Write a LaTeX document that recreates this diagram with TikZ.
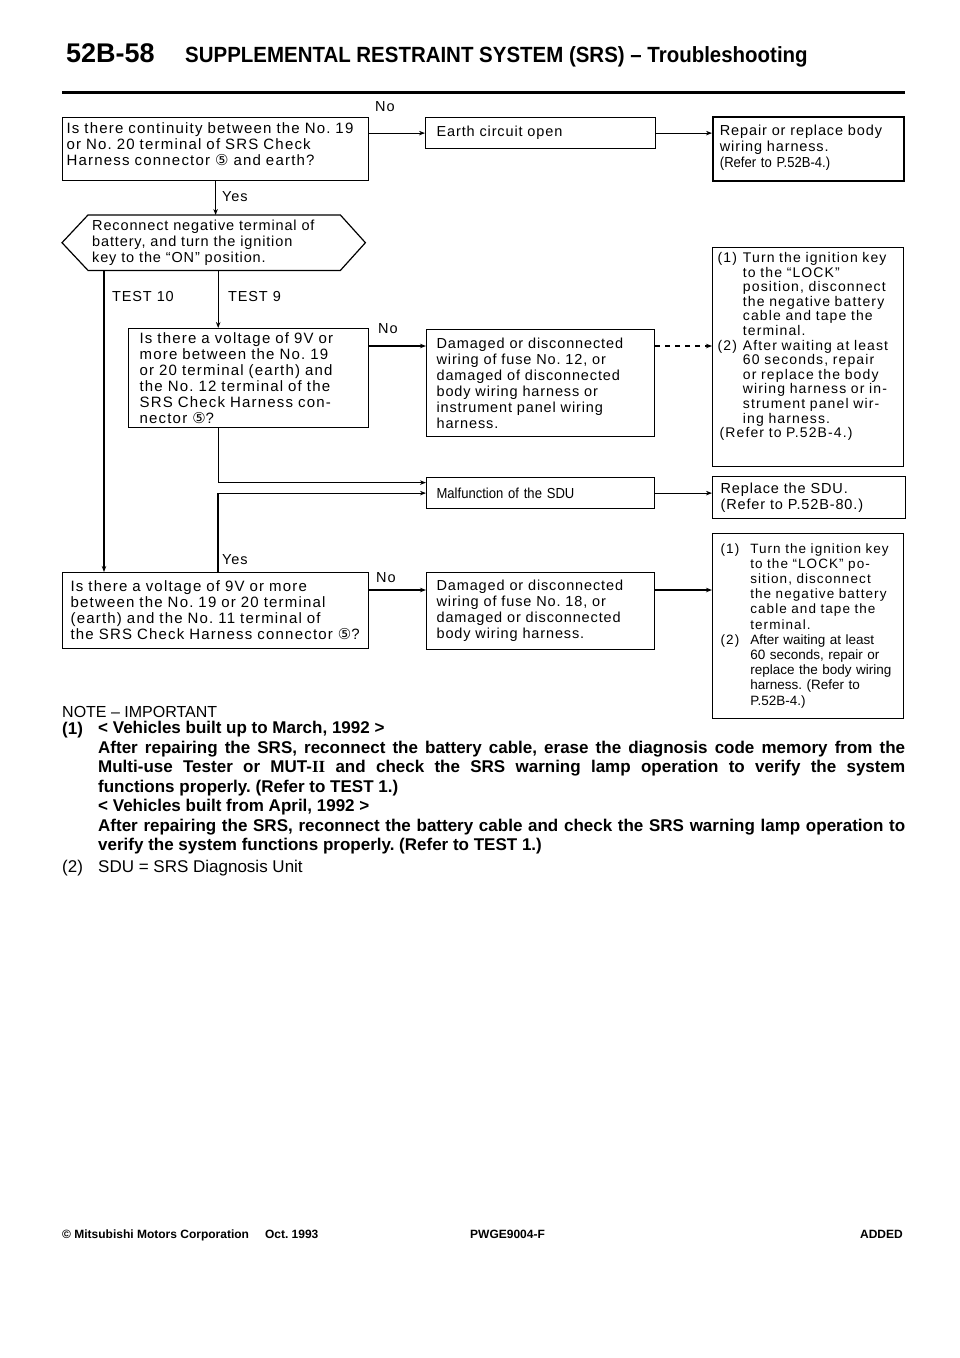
\documentclass[tikz,border=0pt]{standalone}
\usepackage{fontspec}
\setmainfont{Liberation Sans}
\newfontfamily\boxfont{Liberation Sans}[LetterSpace=6]
\newfontfamily\qfont{Liberation Sans}[LetterSpace=8]
\newfontfamily\plainfont{Liberation Sans}
\newfontfamily\narrowfont{Liberation Sans}[FakeStretch=0.9]
\newfontfamily\condfont{Liberation Sans}[FakeStretch=0.93]
\newfontfamily\circfont{DejaVu Sans}
\newfontfamily\romanfont{Liberation Serif}
\newcommand{\cfive}{{\circfont\fontsize{15}{15}\selectfont ⑤}}
\usetikzlibrary{arrows.meta,calc}
\frenchspacing
\begin{document}
\begin{tikzpicture}[x=1pt,y=-1pt,
  >={Stealth[length=6pt,width=4.5pt]},
  box/.style={draw, line width=1.2pt, anchor=north west, align=left,
    font=\boxfont\fontsize{14.5}{16}\selectfont, inner ysep=0pt},
  qbox/.style={box, font=\qfont\fontsize{15}{16}\selectfont},
  lbl/.style={anchor=west, inner sep=0pt, font=\boxfont\fontsize{14.5}{16}\selectfont},
  conn/.style={line width=1.1pt, ->}]
\fill[white] (0,0) rectangle (960,1358);

% header
\node[anchor=base west, inner sep=0pt, font=\bfseries\fontsize{27}{27}\selectfont] (pg) at (66,62) {52B-58};
\node[anchor=base west, inner sep=0pt, font=\condfont\bfseries\fontsize{22}{22}\selectfont] (title) at (185,62) {SUPPLEMENTAL RESTRAINT SYSTEM (SRS) – Troubleshooting};
\draw[line width=3pt] (62,92) -- (905,92);

% row 1
\node[qbox, minimum width=306pt, minimum height=63pt, text width=298pt, inner xsep=4pt] (q1) at (62,117)
  {Is there continuity between the No. 19\\or No. 20 terminal of SRS Check\\Harness connector \cfive{} and earth?\\[-6pt]\mbox{}};
\node[box, minimum width=230pt, minimum height=31pt, text width=208pt, inner xsep=11pt] (earth) at (425,117)
  {Earth circuit open};
\node[box, line width=1.8pt, minimum width=191pt, minimum height=64pt, text width=177pt, inner xsep=7pt] (repair) at (712,116)
  {Repair or replace body\\wiring harness.\\{\narrowfont (Refer to P.52B-4.)}\\[-10pt]\mbox{}};
\draw[conn] (q1.east |- earth.west) -- (earth.west);
\draw[conn] (earth.east) -- (repair.west |- earth.east);
\node[lbl] (no1) at (375,107) {No};

% reconnect hexagon
\node[anchor=north west, minimum width=303pt, minimum height=55pt, text width=243pt, inner xsep=30pt, inner ysep=0pt,
  align=left, font=\boxfont\fontsize{14.5}{16}\selectfont] (recon) at (62,215)
  {Reconnect negative terminal of\\battery, and turn the ignition\\key to the “ON” position.};
\draw[line width=1.2pt] (recon.west) -- ([xshift=26pt]recon.north west) -- ([xshift=-25pt]recon.north east)
  -- (recon.east) -- ([xshift=-25pt]recon.south east) -- ([xshift=26pt]recon.south west) -- cycle;
\draw[conn] (q1.south) -- (q1.south |- recon.north);
\node[lbl] (yes1) at (222,197) {Yes};
\node[lbl] (t10) at (112,297) {TEST 10};
\node[lbl] (t9) at (228,297) {TEST 9};

% row 2
\node[qbox, minimum width=240pt, minimum height=99pt, text width=218pt, inner xsep=11pt] (q2) at (128,328)
  {Is there a voltage of 9V or\\more between the No. 19\\or 20 terminal (earth) and\\the No. 12 terminal of the\\SRS Check Harness con-\\nector \cfive?};
\node[box, minimum width=228pt, minimum height=107pt, text width=208pt, inner xsep=10pt] (q3) at (426,329)
  {Damaged or disconnected\\wiring of fuse No. 12, or\\damaged of disconnected\\body wiring harness or\\instrument panel wiring\\harness.};
\node[box, minimum width=191pt, minimum height=219pt, text width=181pt, inner xsep=5pt,
  font=\qfont\fontsize{14}{14.6}\selectfont] (ra) at (712,247)
  {\begin{tabular}{@{}l@{\hspace{6pt}}l@{}}
  (1) & Turn the ignition key\\
      & to the “LOCK”\\
      & position, disconnect\\
      & the negative battery\\
      & cable and tape the\\
      & terminal.\\
  (2) & After waiting at least\\
      & 60 seconds, repair\\
      & or replace the body\\
      & wiring harness or in-\\
      & strument panel wir-\\
      & ing harness.\\
  \multicolumn{2}{@{\hspace{2pt}}l@{}}{(Refer to P.52B-4.)}\\[20pt]
  \end{tabular}};
\coordinate (c3) at ([yshift=-17pt]q3.north west);
\draw[conn] (q2.east |- c3) -- (c3);
\draw[conn, dash pattern=on 5pt off 5pt] (q3.east |- c3) -- (ra.west |- c3);
\node[lbl] (no2) at (378,329) {No};
\coordinate (t9top) at ([xshift=4.5pt]recon.south);
\draw[conn] (t9top) -- (t9top |- q2.north);

% row 3
\node[box, minimum width=228pt, minimum height=31pt, text width=208pt, inner xsep=10pt,
  font=\narrowfont\fontsize{14.5}{16}\selectfont] (mal) at (426,477) {Malfunction of the SDU};
\node[box, minimum width=191pt, minimum height=42pt, text width=177pt, inner xsep=8pt] (rep2) at (712,476)
  {Replace the SDU.\\(Refer to P.52B-80.)};
\draw[conn] (mal.east) -- (rep2.west |- mal.east);

% row 4
\node[qbox, minimum width=306pt, minimum height=76pt, text width=290pt, inner xsep=8pt] (q4) at (62,572)
  {Is there a voltage of 9V or more\\between the No. 19 or 20 terminal\\(earth) and the No. 11 terminal of\\the SRS Check Harness connector \cfive?};
\node[box, minimum width=228pt, minimum height=77pt, text width=208pt, inner xsep=10pt] (q5) at (426,572)
  {Damaged or disconnected\\wiring of fuse No. 18, or\\damaged or disconnected\\body wiring harness.};
\node[box, minimum width=191pt, minimum height=185pt, text width=175pt, inner xsep=8pt,
  font=\qfont\fontsize{13.5}{15.2}\selectfont] (rb) at (712,533)
  {\begin{tabular}{@{}l@{\hspace{11pt}}l@{}}
  (1) & Turn the ignition key\\
      & to the “LOCK” po-\\
      & sition, disconnect\\
      & the negative battery\\
      & cable and tape the\\
      & terminal.\\
  (2) & {\plainfont After waiting at least}\\
      & {\plainfont 60 seconds, repair or}\\
      & {\plainfont replace the body wiring}\\
      & {\plainfont harness. (Refer to}\\
      & {\plainfont P.52B-4.)}
  \end{tabular}};
\coordinate (c5) at ([yshift=-18pt]q5.north west);
\draw[conn] (q4.east |- c5) -- (c5);
\draw[conn] (q5.east |- c5) -- (rb.west |- c5);
\node[lbl] (no3) at (376,578) {No};

% TEST 10 line and links to Malfunction
\draw[conn] ([xshift=42pt]recon.south west) -- ([xshift=42pt]q4.north west);
\coordinate (m1) at ([yshift=10.5pt]mal.west);
\draw[conn] ([xshift=-30pt]q2.south) |- (m1);
\coordinate (q4y) at ([xshift=156pt]q4.north west);
\draw[conn] (q4y) |- (mal.west);
\node[lbl] (yes2) at (222,560) {Yes};

% note
\node[anchor=base west, inner sep=0pt, font=\plainfont\fontsize{16}{19}\selectfont] (noteh) at (62,717) {NOTE – IMPORTANT};
\node[anchor=base west, inner sep=0pt, font=\bfseries\fontsize{17}{19.5}\selectfont] (n1) at (62,734) {(1)};
\node[anchor=north west, inner sep=0pt, text width=807pt, align=justify,
  font=\bfseries\fontsize{17}{19.5}\selectfont] (n1b) at (98,721)
  {< Vehicles built up to March, 1992 >\\
  After repairing the SRS, reconnect the battery cable, erase the diagnosis code memory from the\linebreak
  Multi-use Tester or MUT-{\romanfont II} and check the SRS warning lamp operation to verify the system\linebreak
  functions properly. (Refer to TEST 1.)\\
  < Vehicles built from April, 1992 >\\
  After repairing the SRS, reconnect the battery cable and check the SRS warning lamp operation to\linebreak
  verify the system functions properly. (Refer to TEST 1.)};
\node[anchor=base west, inner sep=0pt, font=\plainfont\fontsize{17}{19}\selectfont] (n2) at (62,872) {(2)};
\node[anchor=base west, inner sep=0pt, font=\plainfont\fontsize{17}{19}\selectfont] (n2b) at (98,872) {SDU = SRS Diagnosis Unit};

% footer
\node[anchor=base west, inner sep=0pt, font=\bfseries\fontsize{12}{12}\selectfont] (f1) at (62,1238) {© Mitsubishi Motors Corporation\hspace{16pt}Oct. 1993};
\node[anchor=base west, inner sep=0pt, font=\bfseries\fontsize{12}{12}\selectfont] (f2) at (470,1238) {PWGE9004-F};
\node[anchor=base east, inner sep=0pt, font=\bfseries\fontsize{12}{12}\selectfont] (f3) at (903,1238) {ADDED};
\end{tikzpicture}
\end{document}
